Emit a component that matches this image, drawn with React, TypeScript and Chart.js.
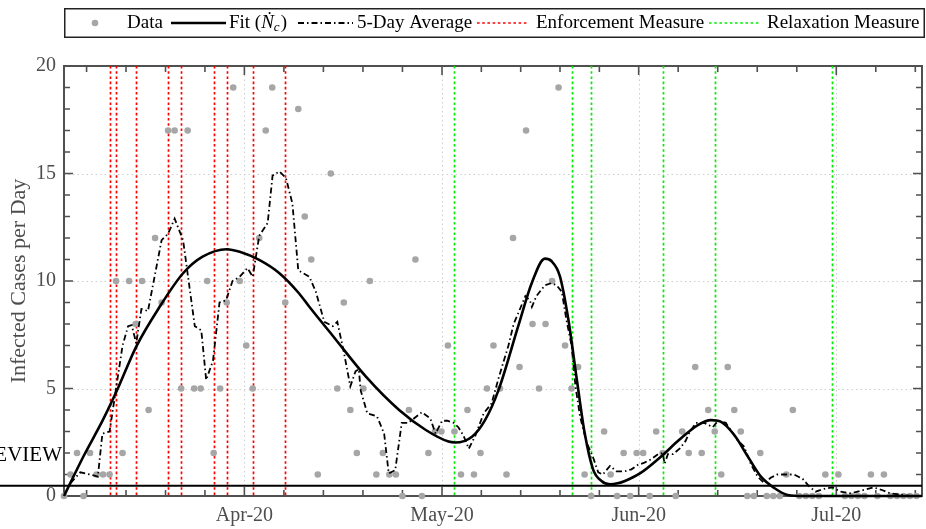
import React, { useEffect, useRef } from 'react';
import { Chart, registerables } from 'chart.js';

Chart.register(...registerables);

// ---------------- data ----------------
// daily infected cases, index = day number (null = no visible dot)
const DAILY_CASES: (number | null)[] = [
  0, 1, 2, 0, 2, 1, 1, 1, 10, 2,
  10, 8, 10, 4, 12, 9, 17, 17, 5, 17,
  5, 5, 10, 2, 5, 9, 19, 10, 7, 5,
  12, 17, 19, null, 9, null, 18, 13, 11, 1,
  null, 15, 5, 9, 4, 2, 5, 10, 1, 2,
  1, 1, 0, 4, 11, 0, 2, 3, 3, 7,
  3, 1, 4, 1, 2, 5, 7, 5, 1, 12,
  6, 17, 8, 5, 8, 10, 19, 7, 5, 6,
  1, 0, null, 3, 1, 0, 2, 0, 2, 2,
  0, 3, 2, null, 0, 3, 2, 6, 2, 4,
  3, 1, 6, 4, 3, 0, 0, 2, 0, 0,
  0, 1, 4, 0, 0, 0, 0, 1, null, 1,
  0, 0, 0, 0, 1, 0, 1, 0, 0, 0,
  0, 0,
];

// fitted curve (N-dot_c)
const FIT_DAYS = [0, 3, 6, 8.2, 11.1, 14.7, 18.3, 21.3, 25, 27, 30, 33.1, 36.1, 37.7, 41.2, 46.4, 51.5, 55.6, 59.1, 60.1, 62.7, 64.7, 66.8, 69.8, 71.9, 73.9, 74.9, 76.2, 77.5, 78.8, 80, 81.3, 82.6, 83.9, 85.1, 86.2, 88.5, 91.8, 94.5, 97.4, 99.4, 100.9, 103, 105.1, 107.1, 109.2, 111.2, 113.7, 131.85];
const FIT_VALUES = [0, 1.85, 3.55, 4.95, 6.95, 8.8, 10.36, 11.13, 11.48, 11.36, 10.98, 10.36, 9.43, 8.8, 7.49, 5.55, 4.0, 3.07, 2.53, 2.49, 2.76, 3.53, 4.95, 7.9, 9.92, 11.04, 10.93, 10.23, 8.22, 5.43, 2.95, 1.24, 0.7, 0.54, 0.59, 0.7, 1.05, 1.85, 2.6, 3.3, 3.53, 3.46, 2.84, 1.83, 0.9, 0.36, 0.05, 0, 0];

// 5-day average
const AVG_DAYS = [1, 2.5, 4, 5.2, 5.9, 7, 8, 9, 9.85, 10.4, 11.1, 11.9, 12.9, 15, 16, 17, 18.3, 20.1, 21.1, 21.85, 22.9, 23.9, 24.9, 25.9, 27, 28.2, 29, 30, 31.3, 32.05, 33.1, 34.1, 35.1, 36, 37.7, 38.7, 40, 41.3, 42, 43, 44, 44.8, 45.3, 45.6, 46.6, 48.1, 49.2, 49.9, 50.9, 51.9, 52.9, 55, 56.3, 57.1, 58.1, 58.9, 59.9, 60.6, 61.4, 62.2, 63.2, 64.5, 65.7, 66.8, 68.3, 69.1, 69.8, 70.9, 71.6, 71.9, 72.6, 73.9, 74.9, 75.7, 76.5, 77.2, 78, 78.6, 79.3, 80.3, 81.3, 82.1, 82.8, 83.9, 84.9, 86.2, 87.2, 88.2, 89.2, 90.2, 91.3, 92, 92.3, 92.8, 93.6, 94.6, 95.5, 96.1, 97.1, 98.4, 99.7, 100.5, 101.7, 103.5, 104.5, 105.6, 106.6, 107.6, 108.6, 109.6, 112.2, 113.5, 114.5, 115.5, 117, 118.1, 119.3, 120.9, 122.9, 124.4, 125.7, 127, 130.1, 131.5];
const AVG_VALUES = [0.6, 1.1, 1.0, 0.9, 2.9, 3.0, 5.0, 7.0, 7.9, 7.95, 7.1, 8.7, 8.6, 11.9, 12.2, 12.9, 11.9, 7.9, 7.7, 5.4, 6.3, 9.0, 9.1, 10.0, 10.2, 10.6, 10.2, 12.1, 12.7, 14.9, 15.1, 14.8, 13.6, 10.5, 10.2, 9.5, 8.1, 7.9, 8.1, 6.7, 5.1, 5.8, 5.9, 4.9, 3.85, 3.7, 2.9, 1.05, 1.2, 3.4, 3.4, 3.9, 3.6, 2.9, 3.5, 3.5, 3.4, 3.2, 2.8, 2.2, 2.8, 3.85, 4.3, 5.5, 7.0, 8.0, 8.5, 9.3, 9.1, 8.8, 9.3, 9.8, 9.9, 9.8, 9.5, 8.2, 7.0, 5.1, 3.7, 2.5, 1.8, 1.1, 1.0, 1.4, 1.15, 1.15, 1.24, 1.45, 1.55, 1.7, 1.95, 2.0, 1.5, 1.95, 1.95, 2.2, 2.55, 2.95, 3.4, 3.4, 3.2, 3.5, 3.4, 2.6, 2.3, 1.45, 0.9, 0.6, 0.85, 1.0, 1.0, 0.8, 0.45, 0.2, 0.35, 0.4, 0.2, 0.12, 0.28, 0.4, 0.28, 0.12, 0, 0];

// measure dates (day numbers)
const ENFORCEMENT_DAYS = [7, 8, 11, 16, 18, 23, 25, 29, 34];
const RELAXATION_DAYS = [60, 78, 81, 92, 100, 118];

// review threshold line
const REVIEW_LEVEL = 0.48;
const REVIEW_TEXT = 'EVIEW';

// axes
const X_MIN = 0;
const X_MAX = 131.85;
const Y_MIN = 0;
const Y_MAX = 20;
const TICK_DAYS = [3.47, 9.53, 15.6, 21.66, 27.72, 33.79, 39.86, 45.94, 52.01, 58.09, 64.13, 70.18, 76.22, 82.27, 88.31, 94.38, 100.46, 106.53, 112.61, 118.68, 124.75, 130.82];
const MONTH_TICK_DAYS = [27.72, 58.09, 88.31, 118.68];
const MONTH_LABELS = ['Apr-20', 'May-20', 'Jun-20', 'Jul-20'];
const Y_LABEL_VALUES = [0, 5, 10, 15, 20];
const Y_TITLE = 'Infected Cases per Day';
const LEGEND_LABELS = ['Data', 'Fit (', '5-Day Average', 'Enforcement Measure', 'Relaxation Measure'];

// ---------------- styles ----------------
const FONT = '"Liberation Serif", "Times New Roman", serif';
const DOT_COLOR = 'rgb(166,166,166)';
const AXIS_COLOR = '#505050';
const GRID_COLOR = '#cdcdcd';
const RED = '#ff0000';
const GREEN = '#00ee00';
const AVG_DASH = [6, 3, 1.5, 3];
const MEASURE_DASH = [2.6, 2.6];

function isMonth(v: number) {
  return MONTH_TICK_DAYS.findIndex((d) => Math.abs(d - v) < 0.01);
}

const decorPlugin = {
  id: 'decor',
  beforeDraw(chart: any) {
    const ctx = chart.ctx;
    ctx.save();
    ctx.fillStyle = '#ffffff';
    ctx.fillRect(0, 0, chart.width, chart.height);
    ctx.restore();
  },
  beforeDatasetsDraw(chart: any) {
    const { ctx, chartArea, scales } = chart;
    const { left, right, top, bottom } = chartArea;
    const xs = scales.x;
    const ys = scales.y;
    ctx.save();
    // dotted grid
    ctx.strokeStyle = GRID_COLOR;
    ctx.lineWidth = 1;
    ctx.setLineDash([1.5, 3]);
    MONTH_TICK_DAYS.forEach((d) => {
      const px = Math.round(xs.getPixelForValue(d)) + 0.5;
      ctx.beginPath();
      ctx.moveTo(px, top);
      ctx.lineTo(px, bottom);
      ctx.stroke();
    });
    Y_LABEL_VALUES.forEach((v) => {
      if (v === Y_MIN || v === Y_MAX) return;
      const py = Math.round(ys.getPixelForValue(v)) + 0.5;
      ctx.beginPath();
      ctx.moveTo(left, py);
      ctx.lineTo(right, py);
      ctx.stroke();
    });
    ctx.setLineDash([]);
    // frame
    ctx.strokeStyle = AXIS_COLOR;
    ctx.lineWidth = 2;
    ctx.strokeRect(left, top, right - left, bottom - top);
    // inward ticks
    ctx.lineWidth = 1.6;
    TICK_DAYS.forEach((d) => {
      const px = xs.getPixelForValue(d);
      const len = isMonth(d) >= 0 ? 9 : 6;
      ctx.beginPath();
      ctx.moveTo(px, bottom);
      ctx.lineTo(px, bottom - len);
      ctx.moveTo(px, top);
      ctx.lineTo(px, top + len);
      ctx.stroke();
    });
    for (let v = Y_MIN; v <= Y_MAX; v++) {
      const py = ys.getPixelForValue(v);
      const len = Y_LABEL_VALUES.includes(v) ? 9 : 6;
      ctx.beginPath();
      ctx.moveTo(left, py);
      ctx.lineTo(left + len, py);
      ctx.moveTo(right, py);
      ctx.lineTo(right - len, py);
      ctx.stroke();
    }
    // y title
    ctx.save();
    ctx.translate(19, (top + bottom) / 2);
    ctx.rotate(-Math.PI / 2);
    ctx.font = `22px ${FONT}`;
    ctx.fillStyle = '#4d4d4d';
    ctx.textAlign = 'center';
    ctx.textBaseline = 'middle';
    ctx.fillText(Y_TITLE, 0, 0);
    ctx.restore();
    // measure lines
    ctx.lineWidth = 1.7;
    ctx.setLineDash(MEASURE_DASH);
    const drawV = (d: number, color: string) => {
      const px = Math.round(xs.getPixelForValue(d)) + 0.5;
      ctx.strokeStyle = color;
      ctx.beginPath();
      ctx.moveTo(px, top);
      ctx.lineTo(px, bottom + 1);
      ctx.stroke();
    };
    ENFORCEMENT_DAYS.forEach((d) => drawV(d, RED));
    RELAXATION_DAYS.forEach((d) => drawV(d, GREEN));
    ctx.restore();
  },
  afterDatasetsDraw(chart: any) {
    const { ctx, chartArea, scales } = chart;
    const ys = scales.y;
    ctx.save();
    const py = ys.getPixelForValue(REVIEW_LEVEL);
    ctx.strokeStyle = '#000';
    ctx.lineWidth = 2;
    ctx.beginPath();
    ctx.moveTo(0, py);
    ctx.lineTo(chartArea.right, py);
    ctx.stroke();
    ctx.font = `21px ${FONT}`;
    ctx.fillStyle = '#000';
    ctx.textAlign = 'right';
    ctx.textBaseline = 'middle';
    ctx.fillText(REVIEW_TEXT, 62, 455);
    ctx.restore();
  },
  afterDraw(chart: any) {
    const ctx = chart.ctx;
    ctx.save();
    ctx.fillStyle = '#fff';
    ctx.fillRect(64, 8, 861, 30);
    ctx.strokeStyle = '#222';
    ctx.lineWidth = 1.5;
    ctx.setLineDash([]);
    ctx.strokeRect(64.75, 8.75, 859.5, 28.5);
    const cy = 23;
    const seg = (x1: number, x2: number, color: string, w: number, dash: number[]) => {
      ctx.save();
      ctx.strokeStyle = color;
      ctx.lineWidth = w;
      ctx.setLineDash(dash);
      ctx.beginPath();
      ctx.moveTo(x1, cy);
      ctx.lineTo(x2, cy);
      ctx.stroke();
      ctx.restore();
    };
    ctx.textBaseline = 'middle';
    ctx.textAlign = 'left';
    ctx.fillStyle = '#000';
    // Data
    ctx.fillStyle = DOT_COLOR;
    ctx.beginPath();
    ctx.arc(95, cy, 3.3, 0, Math.PI * 2);
    ctx.fill();
    ctx.fillStyle = '#000';
    ctx.font = `19px ${FONT}`;
    ctx.fillText(LEGEND_LABELS[0], 127, cy);
    // Fit
    seg(171, 226, '#000', 2.6, []);
    let x = 229;
    ctx.font = `19px ${FONT}`;
    ctx.fillText(LEGEND_LABELS[1], x, cy);
    x += ctx.measureText(LEGEND_LABELS[1]).width;
    ctx.font = `italic 19px ${FONT}`;
    ctx.fillText('\u1E44', x, cy);
    x += ctx.measureText('\u1E44').width;
    ctx.font = `italic 13px ${FONT}`;
    ctx.fillText('c', x, cy + 5);
    x += ctx.measureText('c').width + 1;
    ctx.font = `19px ${FONT}`;
    ctx.fillText(')', x, cy);
    // 5-day avg
    seg(298, 353, '#000', 1.8, AVG_DASH);
    ctx.fillText(LEGEND_LABELS[2], 357, cy);
    // enforcement
    seg(477, 527, RED, 1.7, MEASURE_DASH);
    ctx.fillText(LEGEND_LABELS[3], 536, cy);
    // relaxation
    seg(709, 761, GREEN, 1.7, MEASURE_DASH);
    ctx.fillText(LEGEND_LABELS[4], 767, cy);
    ctx.restore();
  },
};

export default function App() {
  const ref = useRef<HTMLCanvasElement | null>(null);
  useEffect(() => {
    if (!ref.current) return;
    const dots = DAILY_CASES.map((v, i) => (v === null ? null : { x: i, y: v })).filter((p) => p !== null);
    const fit = FIT_DAYS.map((d, i) => ({ x: d, y: FIT_VALUES[i] }));
    const avg = AVG_DAYS.map((d, i) => ({ x: d, y: AVG_VALUES[i] }));
    const chart = new Chart(ref.current, {
      type: 'line',
      data: {
        datasets: [
          {
            label: 'Fit',
            data: fit,
            borderColor: '#000',
            borderWidth: 2.6,
            pointRadius: 0,
            cubicInterpolationMode: 'monotone',
            clip: false,
          } as any,
          {
            label: '5-Day Average',
            data: avg,
            borderColor: '#000',
            borderWidth: 1.8,
            borderDash: AVG_DASH,
            pointRadius: 0,
            tension: 0,
            clip: false,
          } as any,
          {
            type: 'scatter',
            label: 'Data',
            data: dots,
            backgroundColor: DOT_COLOR,
            borderWidth: 0,
            pointRadius: 3.3,
            showLine: false,
            clip: false,
          } as any,
        ],
      },
      options: {
        responsive: false,
        animation: false,
        events: [],
        layout: { padding: { left: 0, right: 1, top: 66, bottom: 0 } },
        plugins: { legend: { display: false }, tooltip: { enabled: false } },
        scales: {
          x: {
            type: 'linear',
            min: X_MIN,
            max: X_MAX,
            afterBuildTicks: (s: any) => {
              s.ticks = TICK_DAYS.map((v) => ({ value: v }));
            },
            afterFit: (s: any) => {
              s.height = 33;
            },
            grid: { display: false, drawTicks: false },
            border: { display: false },
            ticks: {
              autoSkip: false,
              maxRotation: 0,
              padding: 8,
              color: '#4d4d4d',
              font: { family: FONT, size: 20 },
              callback: (v: any) => {
                const i = isMonth(Number(v));
                return i >= 0 ? MONTH_LABELS[i] : '';
              },
            },
          },
          y: {
            type: 'linear',
            min: Y_MIN,
            max: Y_MAX,
            afterFit: (s: any) => {
              s.width = 64;
            },
            grid: { display: false, drawTicks: false },
            border: { display: false },
            ticks: {
              stepSize: 1,
              autoSkip: false,
              padding: 8,
              color: '#4d4d4d',
              font: { family: FONT, size: 20 },
              callback: (v: any) => (Y_LABEL_VALUES.includes(Number(v)) ? String(v) : ''),
            },
          },
        },
      } as any,
      plugins: [decorPlugin],
    });
    return () => chart.destroy();
  }, []);
  return (
    <div style={{ position: 'absolute', left: 0, top: 0, width: 926, height: 529, background: '#fff' }}>
      <canvas ref={ref} width={926} height={529} style={{ display: 'block', width: 926, height: 529 }} />
    </div>
  );
}
